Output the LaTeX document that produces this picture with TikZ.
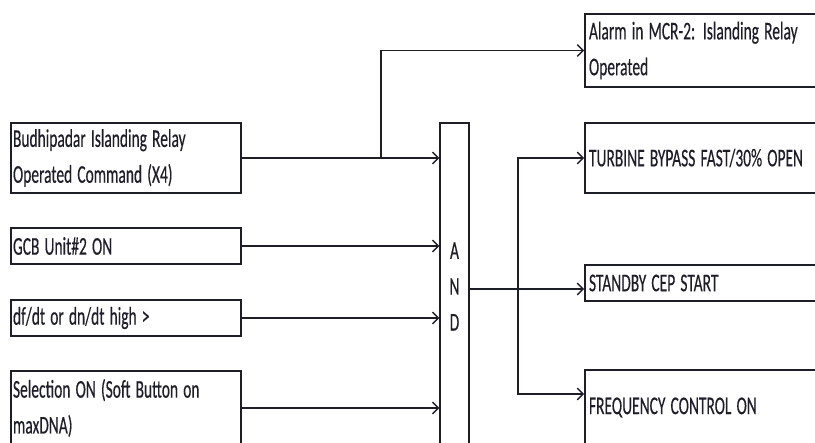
\documentclass[tikz,border=0pt]{standalone}
\usepackage{graphicx}
\usepackage{fontspec}
\newfontfamily\boxfont[FakeBold=0.5]{Carlito}
\newcommand\tallline[1]{\scalebox{1}[1.65]{#1}}
\usetikzlibrary{arrows.meta,positioning}
\definecolor{ink}{HTML}{1E1E28}

\begin{document}
\begin{tikzpicture}[x=0.3mm, y=-0.3mm,
  box/.style={draw=ink, line width=1.5pt, inner xsep=0.6mm, inner ysep=0pt, font=\boxfont\fontsize{13.2pt}{30.6pt}\selectfont, text=ink, align=left},
  inbox/.style={box, minimum width=69mm, text width=67.8mm},
  outbox/.style={box, minimum width=73.5mm, text width=71.1mm},
  gatebox/.style={box, line width=1.2pt, minimum width=8.7mm, minimum height=98.1mm, align=center, inner xsep=0pt},
  sig/.style={draw=ink, line width=1.2pt},
  feed/.style={sig, -{Straight Barb[length=5pt, width=10pt]}},
]
\useasboundingbox (0,0) rectangle (815,443);
\clip (0,0) rectangle (815,443);
% inputs
\node[inbox, minimum height=21mm] (relay) at (126,158) {\tallline{Budhipadar Islanding Relay}\\\tallline{Operated Command (X4)}};
\node[inbox, minimum height=10.8mm] (gcb) at (126,246) {\tallline{GCB Unit\#2 ON}};
\node[inbox, minimum height=10.8mm] (dfdt) at (126,318) {\tallline{df/dt or dn/dt high >}};
\node[inbox, minimum height=22.2mm] (sel) at (126,408) {\tallline{Selection ON (Soft Button on}\\\tallline{maxDNA)}};
% gate
\node[gatebox] (gate) at (454.5,286.5) {\tallline{A}\\\tallline{N}\\\tallline{D}};
% outputs
\node[outbox, minimum height=21.9mm] (alarm) at (707.5,50.5) {\tallline{Alarm in MCR-2: Islanding Relay}\\\tallline{Operated}};
\node[outbox, minimum height=21mm] (bypass) at (707.5,158) {\tallline{TURBINE BYPASS FAST/30\% OPEN}};
\node[outbox, minimum height=10.8mm] (cep) at (707.5,283) {\tallline{STANDBY CEP START}};
\node[outbox, minimum height=22.5mm] (freq) at (707.5,407.5) {\tallline{FREQUENCY CONTROL ON}};
\coordinate (tap) at (381,158);
\coordinate (fork) at (518,289);
\foreach \src in {relay,gcb,dfdt,sel}
  \draw[feed] (\src.east) -- (\src.east -| gate.west);
\draw[feed] (tap) |- (alarm.west);
\draw[sig] (gate.east |- fork) -- (fork);
\draw[feed] (fork) |- (bypass.west);
\draw[feed] (fork) -- (fork -| cep.west);
\draw[feed] (fork) |- ([yshift=-21.3pt]freq.north west);
\end{tikzpicture}
\end{document}
